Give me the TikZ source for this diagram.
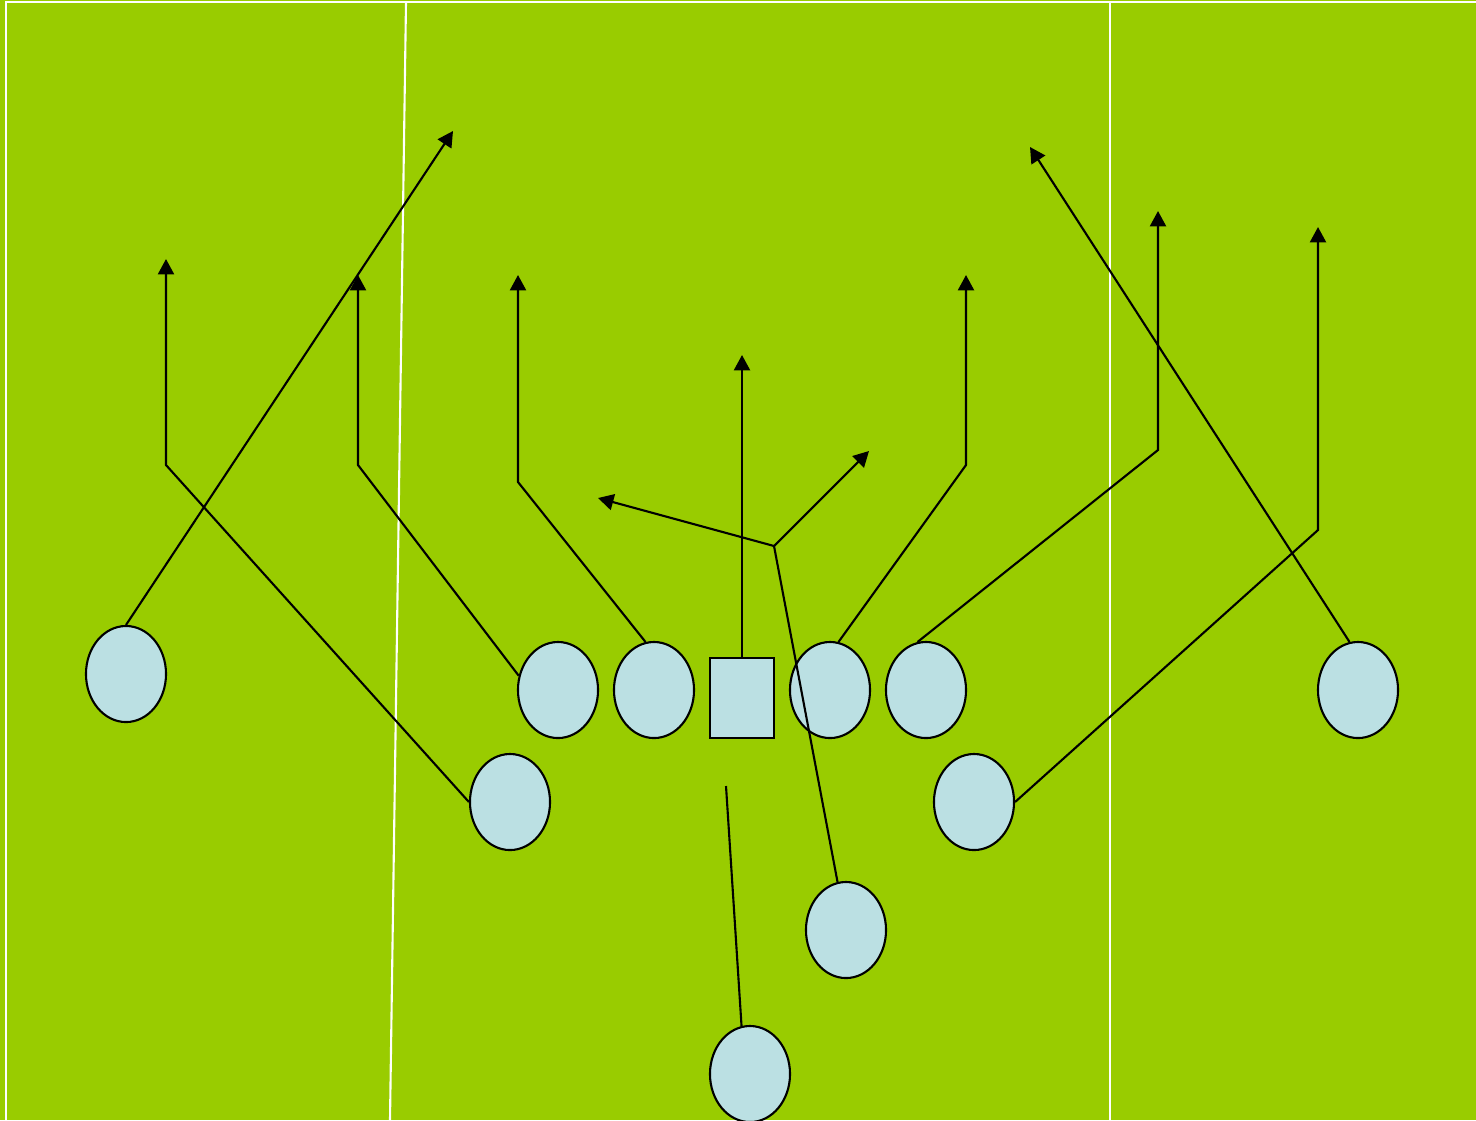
\documentclass[tikz,border=0pt]{standalone}
\usetikzlibrary{shapes.geometric, arrows.meta}

\definecolor{turf}{RGB}{153,204,0}
\definecolor{jersey}{RGB}{187,224,227}

\begin{document}
\begin{tikzpicture}[x=0.01cm, y=-0.01cm,
    player/.style={ellipse, draw=black, line width=0.6pt, fill=jersey,
                   minimum width=0.8cm, minimum height=0.96cm, inner sep=0pt},
    snapper/.style={rectangle, draw=black, line width=0.6pt, fill=jersey,
                    minimum width=0.64cm, minimum height=0.8cm, inner sep=0pt},
    route/.style={draw=black, line width=0.6pt},
    go/.style={route, -{Triangle[length=4.4pt, width=4.6pt]}},
    chalk/.style={draw=white, line width=0.6pt}]

  % Field
  \fill[turf] (0,0) rectangle (1476,1120);
  \useasboundingbox (0,0) rectangle (1476,1120);
  \draw[chalk] (6,1120) -- (6,2) -- (1476,2);
  \draw[chalk] (406,2) -- (390,1120);
  \draw[chalk] (1110,2) -- (1110,1120);

  % Players
  \node[player] (wideL) at (126,674) {};
  \node[player] (guardL) at (558,690) {};
  \node[player] (tackleL) at (654,690) {};
  \node[snapper] (center) at (742,698) {};
  \node[player] (guardR) at (830,690) {};
  \node[player] (tackleR) at (926,690) {};
  \node[player] (wideR) at (1358,690) {};
  \node[player] (wingL) at (510,802) {};
  \node[player] (wingR) at (974,802) {};
  \node[player] (back) at (846,930) {};
  \node[player] (qb) at (750,1074) {};
  \coordinate (snap) at (726,786);

  % Routes
  \draw[go] (wideL.north) -- (453,131);
  \draw[go] (wingL.west) -- (166,465) -- (166,259);
  \draw[go] (guardL.160) -- (358,465) -- (358,275);
  \draw[go] (tackleL.100) -- (518,482) -- (518,275);
  \draw[go] (center.north) -- (742,355);
  \draw[go] (back.100) -- (774,546) -- (598,498);
  \draw[go] (774,546) -- (869,451);
  \draw[go] (guardR.80) -- (966,465) -- (966,275);
  \draw[go] (tackleR.100) -- (1158,450) -- (1158,211);
  \draw[go] (wingR.east) -- (1318,530) -- (1318,227);
  \draw[go] (wideR.100) -- (1030,147);
  \draw[route] (qb.100) -- (snap);
\end{tikzpicture}
\end{document}
